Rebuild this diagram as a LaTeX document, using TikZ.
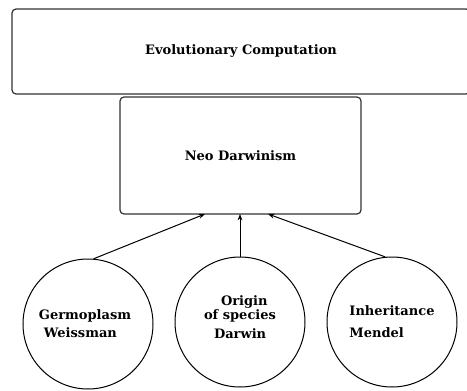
\documentclass[tikz,border=0pt]{standalone}
\usepackage{fontspec}
\setmainfont{DejaVu Serif}
\usetikzlibrary{arrows.meta}
\begin{document}
\begin{tikzpicture}[x=0.5pt,y=-0.5pt,
  lbl/.style={font=\fontsize{6.5}{9}\selectfont\bfseries},
  rbox/.style={draw=black!80,line width=0.6pt,rounded corners=2pt,lbl},
  disc/.style={draw=black,line width=0.5pt,circle,minimum size=65pt,inner sep=0pt,lbl},
  feed/.style={line width=0.5pt,-{Stealth[length=3.2pt,width=2.4pt]}}]
\useasboundingbox (0,0) rectangle (467,391);
\clip (0,0) rectangle (467,391);
% top level
\node[rbox,minimum width=458*0.5pt,minimum height=85*0.5pt] (evo) at (241,51.5) {Evolutionary Computation};
% synthesis box
\node[rbox,minimum width=241*0.5pt,minimum height=117*0.5pt] (neo) at (240.5,155.5) {Neo Darwinism};
% contributing theories
\node[disc,align=left] (germ) at (88,324) {Germoplasm\hspace*{3pt}\\\hspace*{2.5pt}Weissman};
\node[disc,align=left] (orig) at (240,322) {\hspace*{8.5pt}Origin\\[-2pt]of species\hspace*{7pt}\\[0.5pt]\hspace*{5pt}Darwin\rule[-5pt]{0pt}{5pt}};
\node[disc,align=left] (mend) at (392,322) {Inheritance\\[2pt]Mendel};
% arrow targets on the lower edge of the synthesis box
\coordinate (ta) at (205,214);
\coordinate (tb) at (240,214);
\coordinate (tc) at (268,214);
\draw[feed] (germ.85) -- (ta);
\draw[feed] (orig.north) -- (tb);
\draw[feed] (mend.96) -- (tc);
\end{tikzpicture}
\end{document}
